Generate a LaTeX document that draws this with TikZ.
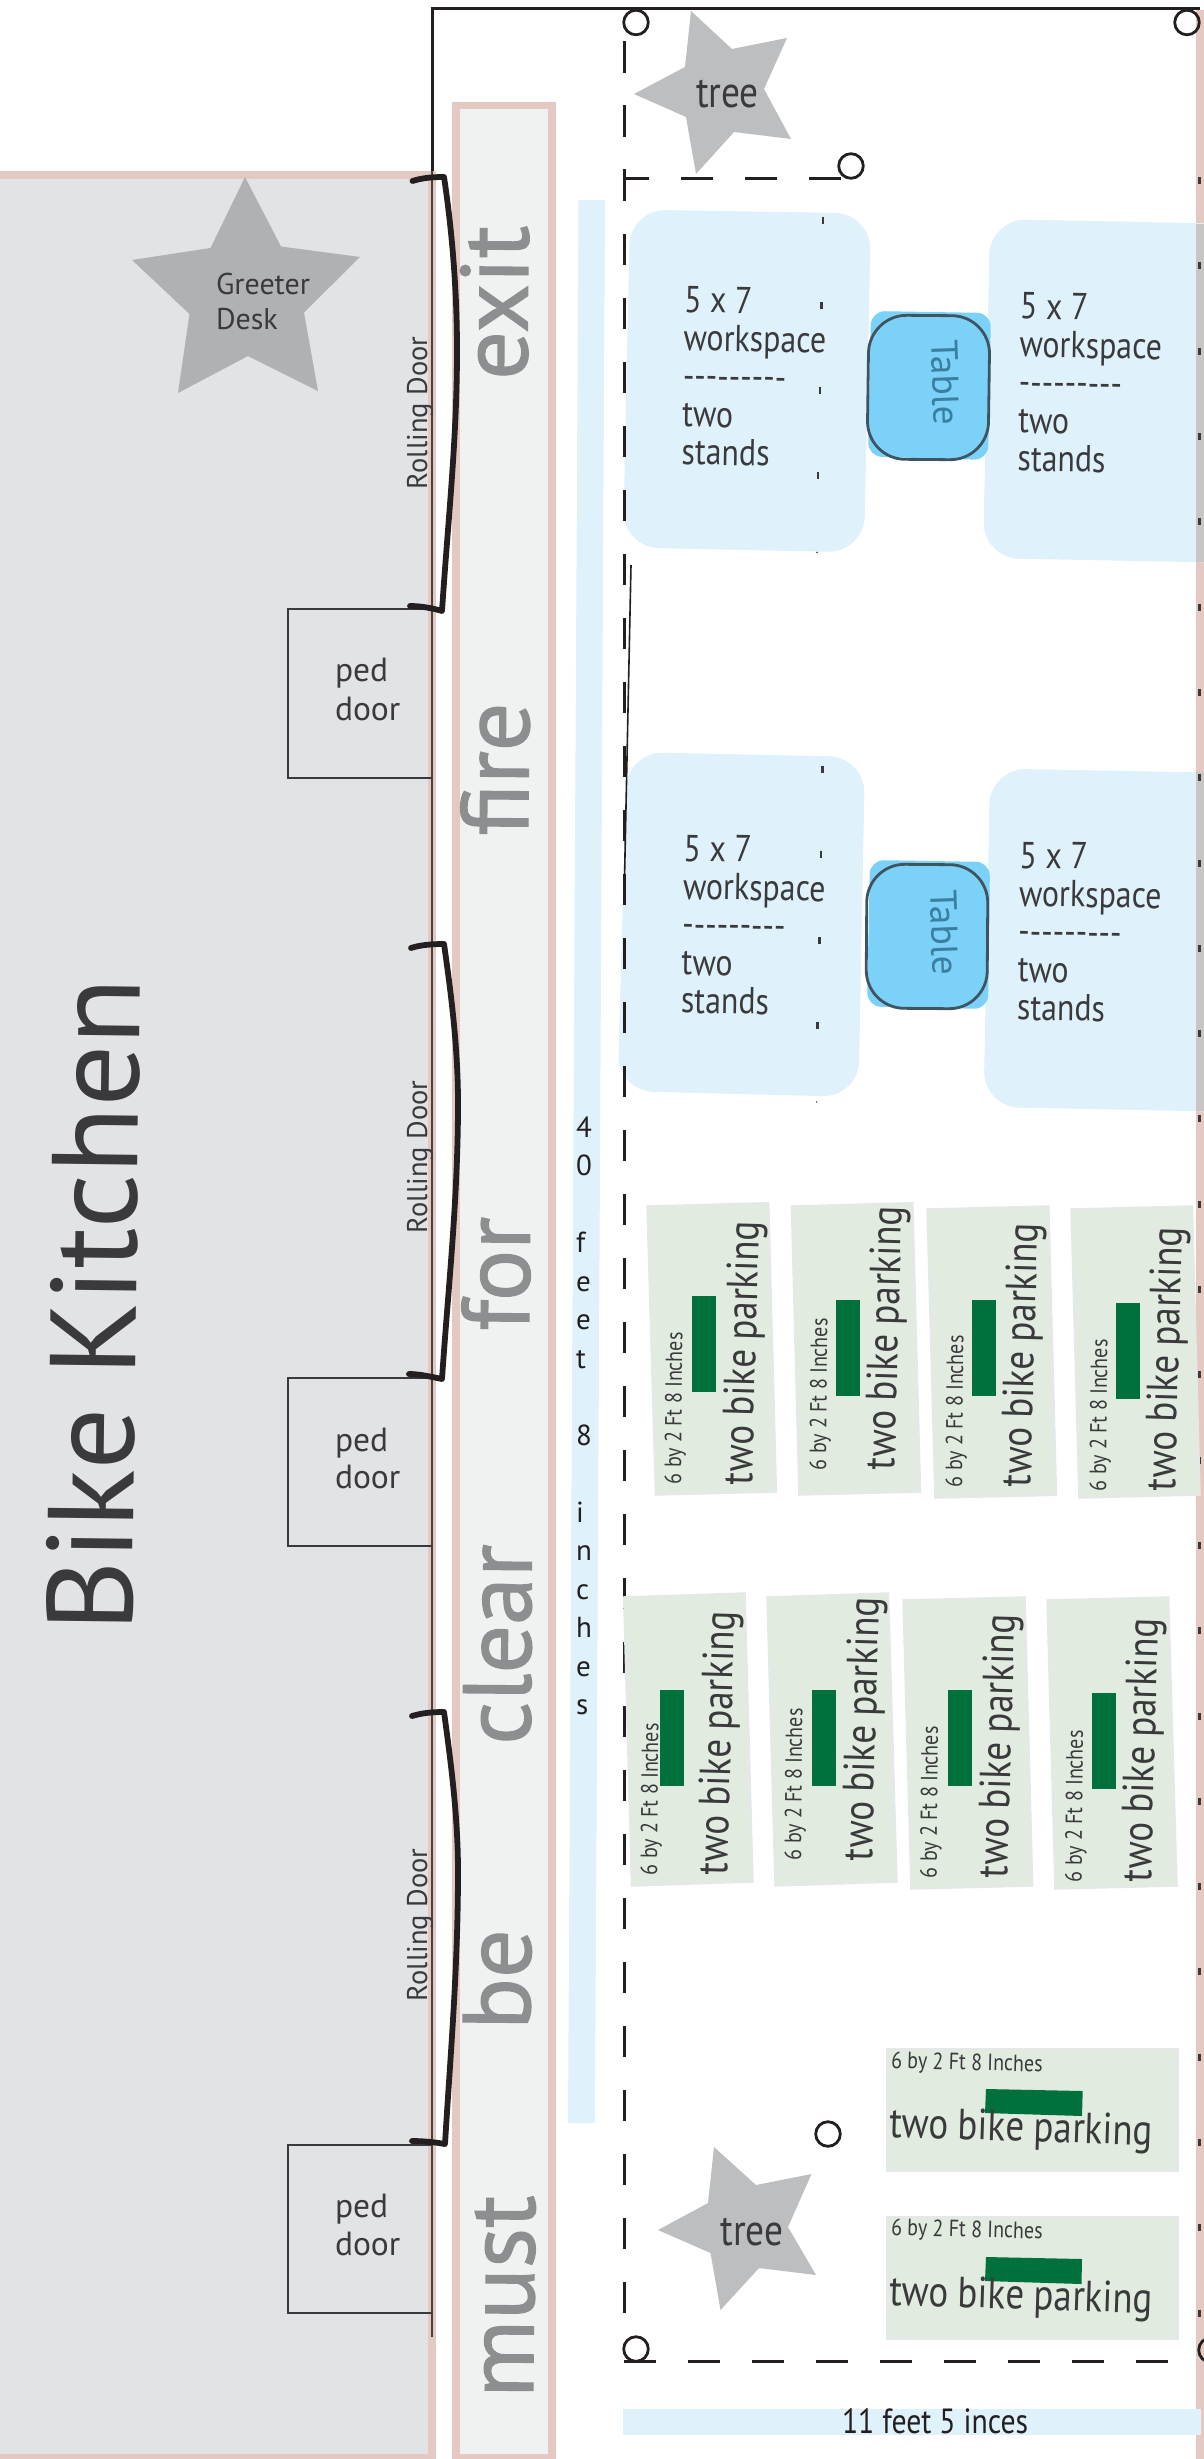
\documentclass[tikz,border=0pt]{standalone}
\usepackage{fontspec}
\setmainfont{PT Sans}
\newfontfamily\nar{PT Sans}[FakeStretch=0.85]
\newfontfamily\wordfont{PT Sans}[FakeBold=1.2]
\definecolor{pinkb}{HTML}{E3C9C1}
\definecolor{kgrey}{HTML}{E2E3E5}
\definecolor{stripc}{HTML}{F0F2F1}
\definecolor{lblue}{HTML}{DFF1FB}
\definecolor{tblue}{HTML}{7CD1F9}
\definecolor{dtxt}{HTML}{3A3A3C}
\definecolor{wword}{HTML}{8C8E90}
\definecolor{pgreen}{HTML}{E2EBE0}
\definecolor{pedge}{HTML}{E6E7EA}
\definecolor{dgreen}{HTML}{00703C}
\definecolor{blk}{HTML}{231F20}
\definecolor{wallmix}{HTML}{C9C5C5}
\definecolor{tbltxt}{HTML}{3A7EA0}
\definecolor{star1}{HTML}{BCBEC0}
\definecolor{star2}{HTML}{B0B1B3}
\tikzset{
 txt/.style={inner sep=0pt,outer sep=0pt,text=dtxt},
 word/.style={txt,text=wword,anchor=base west,rotate=89.5,font=\wordfont\fontsize{96}{96}\selectfont},
 rolllab/.style={txt,anchor=base west,rotate=90,font=\fontsize{28.5}{28.5}\selectfont},
 pedlab/.style={txt,anchor=base west,font=\fontsize{33.5}{33.5}\selectfont},
 wslab/.style={txt,anchor=north west,align=left,rotate=-1,font=\nar\fontsize{37.5}{38}\selectfont},
 tablab/.style={txt,anchor=base west,rotate=-88,text=tbltxt,font=\fontsize{37.5}{37.5}\selectfont},
 smalllab/.style={txt,anchor=base west,font=\nar\fontsize{23.5}{23.5}\selectfont},
 biglab/.style={txt,anchor=base west,font=\nar\fontsize{43.5}{43.5}\selectfont},
 treelab/.style={txt,anchor=base west,font=\nar\fontsize{44}{44}\selectfont},
 parkbox/.style={fill=pgreen,draw=pedge,line width=1.5pt},
 ring/.style={draw=blk,line width=2.8pt},
 rolldoor/.style={draw=blk,line width=5.8pt,line cap=round,line join=round},
 peddoor/.style={draw=dtxt,line width=2.5pt},
 tick/.style={draw=dtxt,line width=2.6pt},
}
% name, TL, TR, BR, BL, green corner 1, green corner 2, small-label start, big-label start
\newcommand{\parkV}[9]{%
 \path[parkbox] (#2)--(#3)--(#4)--(#5)--cycle;
 \fill[dgreen] (#6) rectangle (#7);
 \node[smalllab,rotate=89.5] (#1s) at (#8) {6 by 2 Ft 8 Inches};
 \node[biglab,rotate=88.4] (#1b) at (#9) {two bike parking};
}
\newcommand{\wsblock}[3]{%
 \node[wslab] (#1) at (#2,#3) {\rule{0pt}{30pt}5 x 7\\workspace\\---------\\two\\stands};
}
\begin{document}
\begin{tikzpicture}[x=1pt,y=-1pt]
\useasboundingbox (0,0) rectangle (1204,2459);
% kitchen
\fill[pinkb] (0,171.5) rectangle (436,2459);
\fill[kgrey] (0,179) rectangle (428,2454);
% strip
\fill[pinkb] (452,102) rectangle (556,2459);
\fill[stripc] (460,109.5) rectangle (548,2454);
% right wall
\fill[pinkb] (1196,10) rectangle (1204,2459);
% blue dimension bars
\fill[lblue] (578.5,200) -- (605,200) -- (595,2123) -- (568,2123) -- cycle;
\fill[lblue] (623,2409) rectangle (1201,2435);
% workspaces
\fill[lblue,rounded corners=36pt] (630,209.5)--(871,213.5)--(864,552.5)--(623,547.5)--cycle;
\fill[lblue,rounded corners=36pt] (990,219)--(1240,224)--(1240,563)--(983,558)--cycle;
\fill[lblue,rounded corners=36pt] (627,752)--(865,757)--(858.5,1097)--(617.5,1091)--cycle;
\fill[lblue,rounded corners=36pt] (990,768.5)--(1240,773)--(1240,1112)--(983.5,1107)--cycle;
\fill[wallmix] (1196,224) rectangle (1204,562);
\fill[wallmix] (1196,772) rectangle (1204,1111);
% tables
\fill[tblue,rounded corners=14pt] (871,311)--(991,313)--(988,460)--(868,456.5)--cycle;
\fill[tblue,rounded corners=14pt] (870,860)--(990,862)--(988,1009)--(867,1006.5)--cycle;
\draw[draw=blk!70!tblue,line width=2.8pt,rounded corners=38pt] (869,315)--(990,316)--(988,460)--(867,459)--cycle;
\draw[draw=blk!70!tblue,line width=2.8pt,rounded corners=38pt] (867,864)--(988,865)--(987,1009)--(866,1008)--cycle;
% outer lines
\draw[blk,line width=3pt] (432,171) -- (432,9) -- (1200,9);
\draw[draw=blk!80!pinkb,line width=2.6pt] (432,171) -- (432,2337);
% dashed frame
\draw[blk,line width=3pt,dash pattern=on 31.5pt off 32.5pt] (624,41.5) -- (624,2330);
\draw[blk,line width=3pt,dash pattern=on 32pt off 32pt] (624,2361.7) -- (1170,2361.7);
\draw[blk,line width=3pt,dash pattern=on 32pt off 32pt] (841,178.7) -- (624,178.7);
\draw[blk,line width=1.6pt] (631,565) -- (624,903);
% rings
\foreach \n/\cx/\cy in {a/636/22.5,b/1187/22.5,c/851/166,d/828/2134,e/636/2349,f/1211/2350}
 \draw[ring] (\cx,\cy) circle[radius=12.3];
% ticks on the wall
\foreach \i in {0,...,25}
 \draw[tick] (1199.5,180.6+85.3*\i-3.5) -- (1199.5,180.6+85.3*\i+3.5);
% ticks within workspaces
\foreach \tx/\ty in {823/220,821.5/305,820/390.5,818/475.5,822.5/769,821/854,819.5/940,817.5/1025}
 \draw[tick] (\tx,\ty-3.5) -- (\tx,\ty+3.5);
\fill[dtxt] (817,552.5) circle[radius=0.8];
\fill[dtxt] (816.6,1102) circle[radius=0.8];
% stars
\fill[star2] (245,177)--(281,246.5)--(360,257)--(304,312.5)--(318,391)--(248,356)--(178,393)--(189.5,314)--(132,260)--(210.5,248)--cycle;
\fill[star1] (691,11)--(732,49)--(787,38)--(764,89)--(791,139)--(734,132)--(696,174)--(686,117)--(634,94)--(685,67)--cycle;
\fill[star1] (714,2147)--(756,2185)--(811.5,2174)--(788,2227)--(816,2275)--(759,2268)--(720.5,2310)--(710.5,2253)--(658,2230)--(708,2203)--cycle;
% ped doors
\draw[peddoor] (432,609) -- (288,609) -- (288,778) -- (432,778);
\draw[peddoor] (432,1378) -- (288,1378) -- (288,1546) -- (432,1546);
\draw[peddoor] (432,2145) -- (288,2145) -- (288,2313) -- (432,2313);
% rolling doors
\draw[rolldoor] (412.5,181) .. controls (422,178) and (432,177) .. (444,177) .. controls (452,230) and (457,290) .. (457,350) .. controls (457,440) and (448,520) .. (442,611) .. controls (432,608) and (420,606) .. (410,606);
\draw[rolldoor] (411,948) .. controls (420,945) and (432,944) .. (444,944) .. controls (452,1000) and (458,1050) .. (458,1104) .. controls (458,1200) and (448,1290) .. (442,1379) .. controls (432,1377) and (420,1374) .. (409,1374);
\draw[rolldoor] (412,1716) .. controls (422,1713) and (432,1712) .. (444,1712) .. controls (452,1770) and (458,1820) .. (458,1872) .. controls (458,1970) and (450,2060) .. (445,2144) .. controls (434,2142) and (422,2141) .. (412,2141);
% parking, rotated
\parkV{p1}{647,1206}{768.7,1202.7}{776.4,1492}{655.5,1495}{692,1296}{716,1392}{681,1484}{752,1485}
\parkV{p2}{791.4,1206}{912.8,1202.7}{920.5,1492}{799,1495}{836,1300}{860,1396}{826,1470}{894.7,1470}
\parkV{p3}{927,1209}{1048.8,1206}{1056.5,1495.3}{935,1498}{972,1300}{996,1396}{962,1487}{1030.7,1487}
\parkV{p4}{1071,1209}{1192.4,1206}{1200,1495}{1079,1498}{1116,1303}{1140,1399}{1106,1491}{1175,1491}
\parkV{p5}{623.7,1597}{745,1593}{753,1882}{631.5,1886}{660,1690}{684,1786}{657,1875}{727.5,1875}
\parkV{p6}{767,1597}{888.5,1593}{897,1882}{775,1886}{812,1690}{836,1786}{801,1860}{872,1861}
\parkV{p7}{903,1600}{1025,1597}{1032.7,1886}{911,1889}{948,1690}{972,1786}{936.6,1878}{1007.6,1878}
\parkV{p8}{1047,1600}{1168.6,1597}{1177,1886}{1055,1889}{1092,1693}{1116,1789}{1081.6,1882}{1151,1882}
% parking, level
\path[parkbox] (887,2049) rectangle (1178,2171);
\path[parkbox] (887,2217) rectangle (1178,2339);
\fill[dgreen] (986,2089)--(1082.7,2091)--(1082,2116)--(985,2113)--cycle;
\fill[dgreen] (986,2257)--(1082,2259)--(1081.5,2284)--(985,2281)--cycle;
\node[smalllab,rotate=-1.5] (p9s) at (891,2068) {6 by 2 Ft 8 Inches};
\node[biglab,rotate=-1.8] (p9b) at (889,2137) {two bike parking};
\node[smalllab,rotate=-1.5] (p10s) at (891,2235) {6 by 2 Ft 8 Inches};
\node[biglab,rotate=-1.8] (p10b) at (889,2305) {two bike parking};
% labels
\node[txt,anchor=base west,rotate=89.3,font=\fontsize{122}{122}\selectfont] (title) at (132,1632) {Bike Kitchen};
\node[txt,anchor=north west,align=left,font=\fontsize{30}{35}\selectfont] (greeter) at (216,270) {\rule{0pt}{24pt}Greeter\\Desk};
\node[rolllab] (rd1) at (427,489) {Rolling Door};
\node[rolllab] (rd2) at (427,1233) {Rolling Door};
\node[rolllab] (rd3) at (427,2001) {Rolling Door};
\node[pedlab] (ped1a) at (335,681) {ped};
\node[pedlab] (ped1b) at (335,720) {door};
\node[pedlab] (ped2a) at (335,1451) {ped};
\node[pedlab] (ped2b) at (335,1488) {door};
\node[pedlab] (ped3a) at (335,2217) {ped};
\node[pedlab] (ped3b) at (335,2255) {door};
\node[word] (w1) at (527,380) {exit};
\node[word] (w2) at (528,836) {fire};
\node[word] (w3) at (529,1331) {for};
\node[word] (w4) at (530,1745) {clear};
\node[word] (w5) at (530,2030) {be};
\node[word] (w6) at (533,2398) {must};
\wsblock{ws1}{684.6}{282.5}
\wsblock{ws2}{1020.5}{289}
\wsblock{ws3}{684}{831}
\wsblock{ws4}{1020}{838}
\node[tablab] (t1) at (931,340) {Table};
\node[tablab] (t2) at (930,890) {Table};
\node[treelab] (tr1) at (696,108) {tree};
\node[treelab] (tr2) at (720.5,2245) {tree};
\node[txt,anchor=north west,align=left,text=blk,font=\fontsize{29}{38.5}\selectfont] (dim1) at (576,1107) {\rule{0pt}{30pt}4\\0\\\mbox{}\\f\\e\\e\\t\\\mbox{}\\8\\\mbox{}\\i\\n\\c\\h\\e\\s};
\node[txt,anchor=base west,text=blk,font=\nar\fontsize{35}{35}\selectfont] (dim2) at (842,2433) {11 feet 5 inces};
\end{tikzpicture}
\end{document}
